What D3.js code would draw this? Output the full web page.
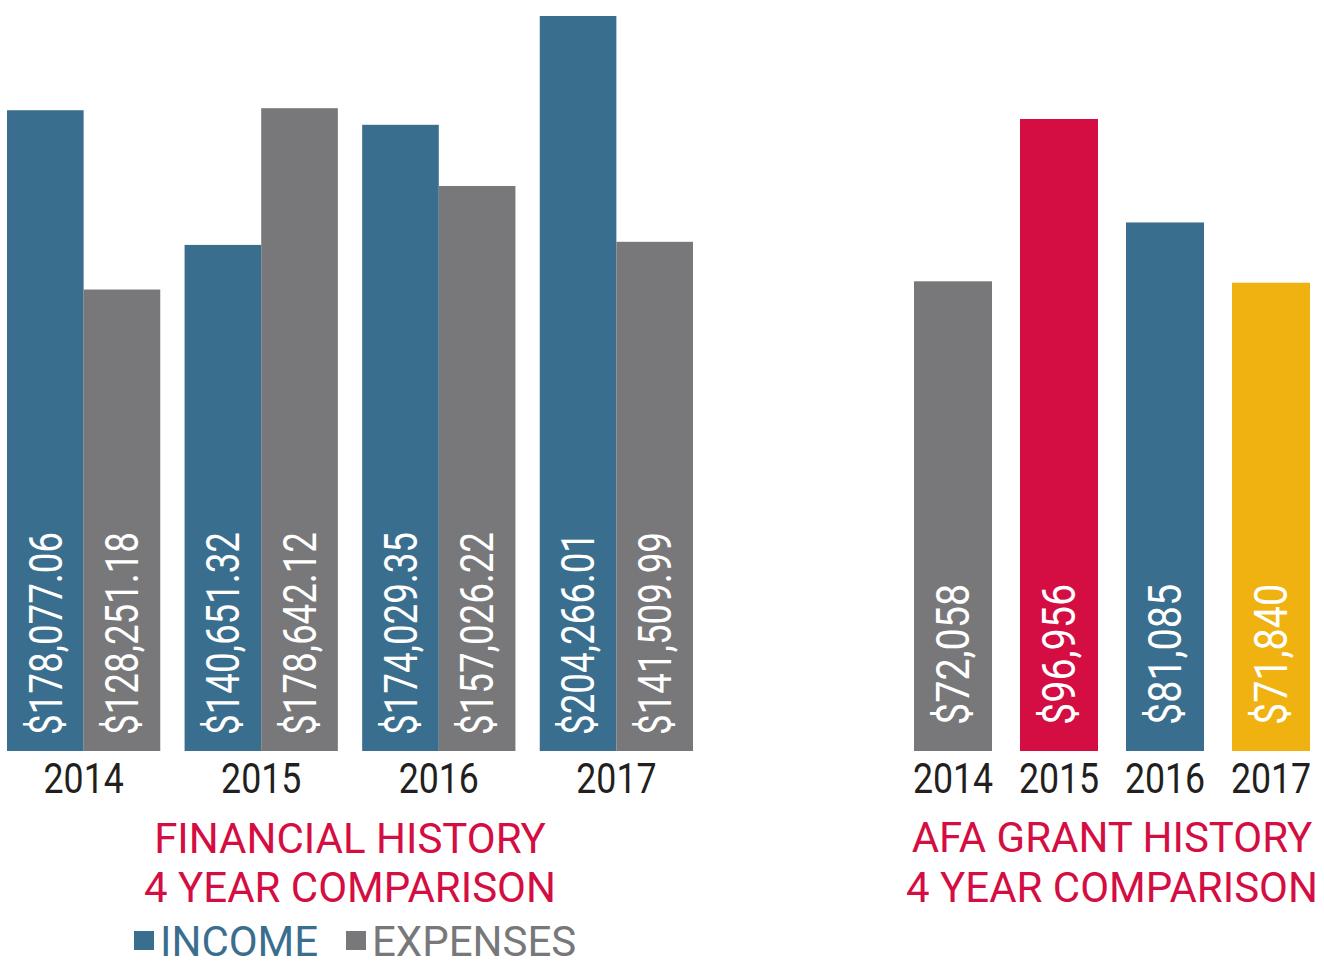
<!DOCTYPE html>
<html>
<head>
<meta charset="utf-8">
<script src="https://cdn.jsdelivr.net/npm/d3@7"></script>
<style>
html,body{margin:0;padding:0;background:#fff;}
svg{display:block;}
</style>
</head>
<body>
<svg id="chart" width="1324" height="962"></svg>
<script>
// ---- data ----
const years = ["2014", "2015", "2016", "2017"];
const incomeValues = [178077.06, 140651.32, 174029.35, 204266.01];
const expenseValues = [128251.18, 178642.12, 157026.22, 141509.99];
const seriesNames = ["INCOME", "EXPENSES"];
const grantValues = [72058, 96956, 81085, 71840];
const leftTitle = ["FINANCIAL HISTORY", "4 YEAR COMPARISON"];
const rightTitle = ["AFA GRANT HISTORY", "4 YEAR COMPARISON"];

// ---- styles ----
const BLUE = "#3a6e8f", GRAY = "#78787a", RED = "#d40d42", YELLOW = "#efb211", TEXT = "#231f20";
const grantColors = [GRAY, RED, BLUE, YELLOW];
const seriesColors = [BLUE, GRAY];
const FONT = "Roboto, 'Liberation Sans', sans-serif";

const svg = d3.select("#chart");
const baseY = 751;
const valFont = 46, valScaleL = 0.8, valScaleR = 0.86;
const yearFont = 42, yearScale = 0.85;

// ---- left chart: grouped bars ----
const x0 = d3.scaleBand().domain(years).range([7, 693]).paddingInner(0.137).paddingOuter(0);
const x1 = d3.scaleBand().domain(seriesNames).range([0, x0.bandwidth()]).padding(0);
const yL = d3.scaleLinear().domain([0, d3.max(incomeValues.concat(expenseValues))]).range([baseY, 16]);

const rows = years.map((yr, i) => ({year: yr, vals: [
  {key: "INCOME", v: incomeValues[i], c: BLUE},
  {key: "EXPENSES", v: expenseValues[i], c: GRAY}
]}));

const fmt2 = d3.format(",.2f");
const grp = svg.append("g").selectAll("g").data(rows).join("g")
  .attr("transform", d => `translate(${x0(d.year)},0)`);

grp.selectAll("rect").data(d => d.vals).join("rect")
  .attr("x", d => x1(d.key))
  .attr("width", x1.bandwidth())
  .attr("y", d => yL(d.v))
  .attr("height", d => baseY - yL(d.v))
  .attr("fill", d => d.c);

grp.selectAll("text.val").data(d => d.vals).join("text")
  .attr("class", "val")
  .attr("transform", d => `translate(${x1(d.key) + x1.bandwidth() / 2 + valFont * 0.355},735) rotate(-90) scale(${valScaleL},1)`)
  .attr("fill", "#fff")
  .attr("font-family", FONT)
  .attr("font-size", valFont)
  .text(d => "$" + fmt2(d.v));

// year axis labels (left)
const axL = d3.axisBottom(x0).tickSize(0).tickPadding(0);
const gAxL = svg.append("g").attr("transform", `translate(0,${baseY})`).call(axL);
gAxL.select(".domain").remove();
gAxL.selectAll(".tick text")
  .attr("dy", null).attr("y", 42)
  .attr("transform", `scale(${yearScale},1)`)
  .attr("fill", TEXT).attr("font-family", FONT).attr("font-size", yearFont);

// left title
const leftCx = 350;
svg.append("g").selectAll("text").data(leftTitle).join("text")
  .attr("x", leftCx).attr("y", (d, i) => 853 + i * 49)
  .attr("text-anchor", "middle")
  .attr("fill", RED).attr("font-family", FONT).attr("font-size", 42)
  .text(d => d);

// legend
const legendX = [134, 346];
const lg = svg.append("g").selectAll("g").data(seriesNames).join("g")
  .attr("transform", (d, i) => `translate(${legendX[i]},0)`);
lg.append("rect").attr("x", 0).attr("y", 931).attr("width", 20).attr("height", 19)
  .attr("fill", (d, i) => seriesColors[i]);
lg.append("text").attr("x", 26).attr("y", 956)
  .attr("fill", (d, i) => seriesColors[i])
  .attr("font-family", FONT).attr("font-size", 42)
  .text(d => d);

// ---- right chart: grant bars ----
const xR = d3.scaleBand().domain(years).range([914, 1310]).paddingInner(0.264).paddingOuter(0);
const yR = d3.scaleLinear().domain([0, d3.max(grantValues)]).range([baseY, 119]);
const grants = years.map((yr, i) => ({year: yr, v: grantValues[i], c: grantColors[i]}));
const fmt0 = d3.format(",");

const rg = svg.append("g");
rg.selectAll("rect").data(grants).join("rect")
  .attr("x", d => xR(d.year))
  .attr("width", xR.bandwidth())
  .attr("y", d => yR(d.v))
  .attr("height", d => baseY - yR(d.v))
  .attr("fill", d => d.c);
rg.selectAll("text").data(grants).join("text")
  .attr("transform", d => `translate(${xR(d.year) + xR.bandwidth() / 2 + valFont * 0.355},725) rotate(-90) scale(${valScaleR},1)`)
  .attr("fill", "#fff")
  .attr("font-family", FONT)
  .attr("font-size", valFont)
  .text(d => "$" + fmt0(d.v));

const axR = d3.axisBottom(xR).tickSize(0).tickPadding(0);
const gAxR = svg.append("g").attr("transform", `translate(0,${baseY})`).call(axR);
gAxR.select(".domain").remove();
gAxR.selectAll(".tick text")
  .attr("dy", null).attr("y", 42)
  .attr("transform", `scale(${yearScale},1)`)
  .attr("fill", TEXT).attr("font-family", FONT).attr("font-size", yearFont);

svg.append("g").selectAll("text").data(rightTitle).join("text")
  .attr("x", 1112).attr("y", (d, i) => 852 + i * 50)
  .attr("text-anchor", "middle")
  .attr("fill", RED).attr("font-family", FONT).attr("font-size", 42)
  .text(d => d);
</script>
</body>
</html>
